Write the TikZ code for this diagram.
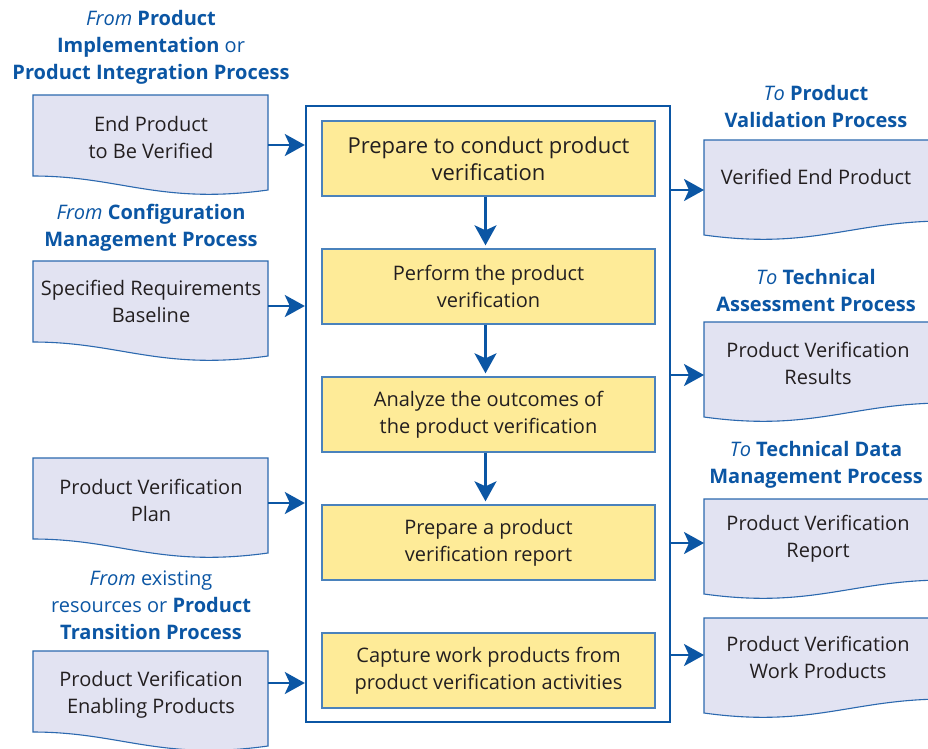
\documentclass[tikz,border=0pt]{standalone}
\usepackage{fontspec}
\setmainfont{Open Sans}
\usetikzlibrary{arrows.meta}
\definecolor{nblue}{HTML}{0B56A4}
\definecolor{docfill}{HTML}{E2E3F2}
\definecolor{docline}{HTML}{2C69AF}
\definecolor{yel}{HTML}{FEEB98}
\definecolor{yelline}{HTML}{4A82BC}
\definecolor{txt}{HTML}{231F20}
\newcommand\leftdoc[1]{\path[docshape] (33,#1) -- (268,#1) -- (268,{#1+95}) .. controls (160,{#1+110}) and (120,{#1+81}) .. (33,{#1+81}) -- cycle;}
\newcommand\rightdoc[1]{\path[docshape] (704,#1) -- (945,#1) -- (945,{#1+81}) .. controls (852,{#1+81}) and (812,{#1+110}) .. (704,{#1+95}) -- cycle;}
\begin{document}
\begin{tikzpicture}[x=1pt,y=-1pt,
  hdr/.style={text=nblue, font=\fontsize{20}{27}\selectfont, align=center, inner sep=0pt},
  doctext/.style={text=txt, font=\fontsize{20}{27}\selectfont, align=center, inner sep=0pt},
  docshape/.style={draw=docline, fill=docfill, line width=1.1pt},
  stepbox/.style={draw=yelline, fill=yel, line width=1.4pt, minimum width=333pt, minimum height=75pt, inner sep=0pt, text=txt, font=\fontsize{20}{27}\selectfont, align=center},
  framebox/.style={draw=nblue, line width=2.4pt, minimum width=364pt, minimum height=616pt, inner sep=0pt},
  flow/.style={draw=nblue, line width=2.4pt, -{Stealth[length=20pt,width=22pt,inset=5pt]}}
]
\clip (0,0) rectangle (928,748);
\fill[white] (0,0) rectangle (928,748);

% frame and steps
\node[framebox] (frame) at (488,414) {};
\node[stepbox, font=\fontsize{22}{27}\selectfont] (s1) at (488.5,158.5) {Prepare to conduct product\\verification};
\node[stepbox] (s2) at (488.5,286.5) {Perform the product\\verification};
\node[stepbox] (s3) at (488.5,414.5) {Analyze the outcomes of\\the product verification};
\node[stepbox] (s4) at (488.5,542.5) {Prepare a product\\verification report};
\node[stepbox] (s5) at (488.5,670.5) {Capture work products from\\product verification activities};
\draw[flow, shorten >=3pt] ([xshift=-3pt]s1.south) -- ([xshift=-3pt]s2.north);
\draw[flow, shorten >=3pt] ([xshift=-3pt]s2.south) -- ([xshift=-3pt]s3.north);
\draw[flow, shorten >=3pt] ([xshift=-3pt]s3.south) -- ([xshift=-3pt]s4.north);

% left documents
\leftdoc{95}
\leftdoc{261}
\leftdoc{458}
\leftdoc{651}
\node[doctext] (l1) at (151,137.5) {End Product\\to Be Verified};
\node[doctext] (l2) at (151,301.5) {Specified Requirements\\Baseline};
\node[doctext] (l3) at (151,500.5) {Product Verification\\Plan};
\node[doctext] (l4) at (151,694.5) {Product Verification\\Enabling Products};

\node[hdr] (h1) at (151,47) {\textit{From} \textbf{Product}\\\textbf{Implementation} or\\\textbf{Product Integration Process}};
\node[hdr] (h2) at (151,227.5) {\textit{From} \textbf{Configuration}\\\textbf{Management Process}};
\node[hdr] (h3) at (151,605) {\textit{From} existing\\resources or \textbf{Product}\\\textbf{Transition Process}};

\coordinate (a1) at (268,145);
\coordinate (a2) at (268,306);
\coordinate (a3) at (268,503);
\coordinate (a4) at (268,683);
\foreach \i in {1,2,3,4} \draw[flow] (a\i) -- (a\i -| frame.west);

% right documents
\rightdoc{140}
\rightdoc{322}
\rightdoc{499}
\rightdoc{618}
\node[doctext] (r1) at (816,177) {Verified End Product};
\node[doctext] (r2) at (818,363) {Product Verification\\Results};
\node[doctext] (r3) at (818,538.5) {Product Verification\\Report};
\node[doctext] (r4) at (818,657.5) {Product Verification\\Work Products};

\node[hdr] (g1) at (816,106.5) {\textit{To} \textbf{Product}\\\textbf{Validation Process}};
\node[hdr] (g2) at (816,290) {\textit{To} \textbf{Technical}\\\textbf{Assessment Process}};
\node[hdr] (g3) at (816,465) {\textit{To} \textbf{Technical Data}\\\textbf{Management Process}};

\coordinate (b1) at (704,190);
\coordinate (b2) at (704,375);
\coordinate (b3) at (704,543);
\coordinate (b4) at (704,655);
\foreach \i in {1,2,3,4} \draw[flow] (b\i -| frame.east) -- (b\i);
\end{tikzpicture}
\end{document}
